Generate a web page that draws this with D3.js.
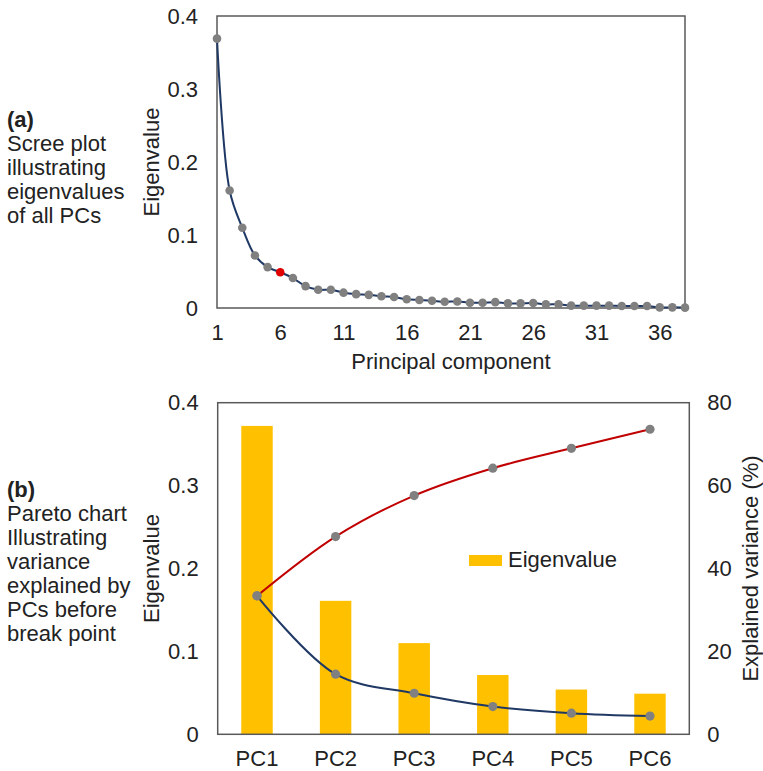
<!DOCTYPE html>
<html>
<head>
<meta charset="utf-8">
<script src="https://cdn.jsdelivr.net/npm/d3@7"></script>
<style>
  body { margin: 0; background: #fff; }
  svg { display: block; font-family: "Liberation Sans", Arial, sans-serif; }
  .tick text { font-size: 22px; fill: #222; }
</style>
</head>
<body>
<div id="chart"></div>
<script>
// scree plot: eigenvalue of every principal component (PC1..PC38)
var eigenAll = [0.369, 0.161, 0.110, 0.072, 0.056, 0.049, 0.041, 0.030, 0.025, 0.025,
    0.021, 0.019, 0.018, 0.016, 0.015, 0.012, 0.011, 0.010, 0.0086, 0.009,
    0.0072, 0.0072, 0.008, 0.0063, 0.0063, 0.0068, 0.005, 0.005, 0.0032, 0.0032,
    0.0032, 0.0032, 0.0027, 0.0027, 0.0027, 0.0009, 0.0009, 0.0005];
var breakPoint = 6;
var screeTicks = [1, 6, 11, 16, 21, 26, 31, 36];
var eigenTicks = [0, 0.1, 0.2, 0.3, 0.4];

// pareto chart: PCs before the break point
var pcNames = ["PC1", "PC2", "PC3", "PC4", "PC5", "PC6"];
var pcEigen = [0.372, 0.161, 0.110, 0.0715, 0.054, 0.049];
var cumVariance = [33.4, 47.7, 57.6, 64.2, 69.0, 73.6];
var pcVariance = [33.4, 14.5, 9.9, 6.7, 5.1, 4.4];
var varianceTicks = [0, 20, 40, 60, 80];

const w = 763;
const h = 771;
const fs = "22px";
const navy = "#1f3864";
const red = "#c00000";
const dotGray = "#808080";
const frameGray = "#595959";
const gold = "#ffc000";

const svg = d3.select("#chart")
    .append("svg")
    .attr("width", w)
    .attr("height", h);

var fmtEigen = (d) => d === 0 ? "0" : d3.format(".1f")(d);

// side captions
function caption(lines, x, y) {
    var t = svg.append("text")
        .attr("x", x)
        .attr("y", y)
        .style("font-size", fs)
        .style("fill", "#222");
    lines.forEach((l, i) => {
        t.append("tspan")
            .attr("x", x)
            .attr("dy", i === 0 ? 0 : 24)
            .style("font-weight", i === 0 ? "bold" : "normal")
            .text(l);
    });
}
caption(["(a)", "Scree plot", "illustrating", "eigenvalues", "of all PCs"], 7, 127);
caption(["(b)", "Pareto chart", "Illustrating", "variance", "explained by", "PCs before", "break point"], 7, 497);

// ---------- (a) scree plot ----------
const a = { left: 217, right: 685, top: 16, bottom: 308 };

const xScree = d3.scaleLinear()
    .domain([1, eigenAll.length])
    .range([a.left, a.right]);

const yScree = d3.scaleLinear()
    .domain([0, 0.4])
    .range([a.bottom, a.top]);

svg.append("g")
    .attr("transform", "translate(0," + a.bottom + ")")
    .call(d3.axisBottom(xScree).tickValues(screeTicks).tickSize(0).tickPadding(16).tickFormat(d3.format("d")))
    .call(g => g.select(".domain").remove());

svg.append("g")
    .attr("transform", "translate(" + a.left + ",0)")
    .call(d3.axisLeft(yScree).tickValues(eigenTicks).tickSize(0).tickPadding(19).tickFormat(fmtEigen))
    .call(g => g.select(".domain").remove());

svg.append("rect")
    .attr("x", a.left)
    .attr("y", a.top)
    .attr("width", a.right - a.left)
    .attr("height", a.bottom - a.top)
    .attr("fill", "none")
    .attr("stroke", frameGray)
    .attr("stroke-width", 1.5);

svg.append("path")
    .datum(eigenAll)
    .attr("fill", "none")
    .attr("stroke", navy)
    .attr("stroke-width", 2)
    .attr("d", d3.line()
        .x((d, i) => xScree(i + 1))
        .y((d) => yScree(d))
        .curve(d3.curveCatmullRom.alpha(0.5)));

svg.selectAll(".scree-dot")
    .data(eigenAll)
    .enter()
    .append("circle")
    .attr("class", "scree-dot")
    .attr("cx", (d, i) => xScree(i + 1))
    .attr("cy", (d) => yScree(d))
    .attr("r", 4.3)
    .attr("fill", (d, i) => i + 1 === breakPoint ? "#e00000" : dotGray);

svg.append("text")
    .attr("x", (a.left + a.right) / 2)
    .attr("y", 369)
    .attr("text-anchor", "middle")
    .style("font-size", fs)
    .style("fill", "#222")
    .text("Principal component");

svg.append("text")
    .attr("transform", "translate(159," + ((a.top + a.bottom) / 2) + ") rotate(-90)")
    .attr("text-anchor", "middle")
    .style("font-size", fs)
    .style("fill", "#222")
    .text("Eigenvalue");

// ---------- (b) pareto chart ----------
const b = { left: 217.7, right: 689.3, top: 402.7, bottom: 734.3 };

const xPareto = d3.scaleBand()
    .domain(pcNames)
    .range([b.left, b.right])
    .paddingInner(0.6)
    .paddingOuter(0.3);

const yEigen = d3.scaleLinear()
    .domain([0, 0.4])
    .range([b.bottom, b.top]);

const yVar = d3.scaleLinear()
    .domain([0, 80])
    .range([b.bottom, b.top]);

svg.selectAll(".bar")
    .data(pcEigen)
    .enter()
    .append("rect")
    .attr("class", "bar")
    .attr("x", (d, i) => xPareto(pcNames[i]))
    .attr("y", (d) => yEigen(d))
    .attr("width", xPareto.bandwidth())
    .attr("height", (d) => b.bottom - yEigen(d))
    .attr("fill", gold);

svg.append("g")
    .attr("transform", "translate(0," + b.bottom + ")")
    .call(d3.axisBottom(xPareto).tickSize(0).tickPadding(16))
    .call(g => g.select(".domain").remove());

svg.append("g")
    .attr("transform", "translate(" + b.left + ",0)")
    .call(d3.axisLeft(yEigen).tickValues(eigenTicks).tickSize(0).tickPadding(19).tickFormat(fmtEigen))
    .call(g => g.select(".domain").remove());

svg.append("g")
    .attr("transform", "translate(" + b.right + ",0)")
    .call(d3.axisRight(yVar).tickValues(varianceTicks).tickSize(0).tickPadding(18))
    .call(g => g.select(".domain").remove());

svg.append("rect")
    .attr("x", b.left)
    .attr("y", b.top)
    .attr("width", b.right - b.left)
    .attr("height", b.bottom - b.top)
    .attr("fill", "none")
    .attr("stroke", frameGray)
    .attr("stroke-width", 1.5);

var xMid = (i) => xPareto(pcNames[i]) + xPareto.bandwidth() / 2;

var varLine = d3.line()
    .x((d, i) => xMid(i))
    .y((d) => yVar(d))
    .curve(d3.curveCatmullRom.alpha(0.5));

svg.append("path")
    .datum(cumVariance)
    .attr("fill", "none")
    .attr("stroke", red)
    .attr("stroke-width", 2)
    .attr("d", varLine);

svg.append("path")
    .datum(pcVariance)
    .attr("fill", "none")
    .attr("stroke", navy)
    .attr("stroke-width", 2)
    .attr("d", varLine);

[cumVariance, pcVariance].forEach((series) => {
    svg.append("g")
        .selectAll("circle")
        .data(series)
        .enter()
        .append("circle")
        .attr("cx", (d, i) => xMid(i))
        .attr("cy", (d) => yVar(d))
        .attr("r", 4.6)
        .attr("fill", dotGray);
});

// legend
svg.append("rect")
    .attr("x", 469)
    .attr("y", 555)
    .attr("width", 33)
    .attr("height", 11)
    .attr("fill", gold);

svg.append("text")
    .attr("x", 508)
    .attr("y", 567)
    .style("font-size", fs)
    .style("fill", "#222")
    .text("Eigenvalue");

svg.append("text")
    .attr("transform", "translate(159," + ((b.top + b.bottom) / 2) + ") rotate(-90)")
    .attr("text-anchor", "middle")
    .style("font-size", fs)
    .style("fill", "#222")
    .text("Eigenvalue");

svg.append("text")
    .attr("transform", "translate(758," + ((b.top + b.bottom) / 2) + ") rotate(-90)")
    .attr("text-anchor", "middle")
    .style("font-size", fs)
    .style("fill", "#222")
    .text("Explained variance (%)");
</script>
</body>
</html>
